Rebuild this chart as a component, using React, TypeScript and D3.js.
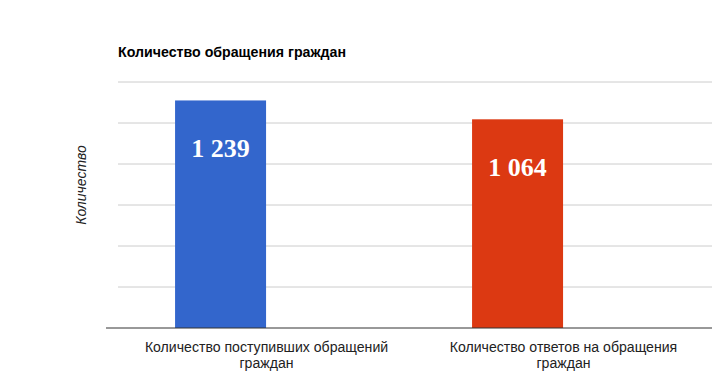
import React from 'react';
import * as d3 from 'd3';

// Chart data
const categories = ['Количество поступивших обращений граждан', 'Количество ответов на обращения граждан'];
const counts = [1239, 1064];
// bar heights as drawn in the picture, in gridline units (axis has no tick labels)
const barLevels = [5.55, 5.09];
const gridTicks = [0, 1, 2, 3, 4, 5, 6];
const colors = ['#3366cc', '#dc3912'];

const title = 'Количество обращения граждан';
const yTitle = 'Количество';

const width = 718;
const height = 386;
const margin = { top: 82, right: 6, bottom: 58, left: 118 };

const fmt = (v: number) => d3.format(',')(v).replace(/,/g, ' ');

export default function App() {
  const innerW = width - margin.left - margin.right;
  const innerH = height - margin.top - margin.bottom;

  // category slots (labels sit in the middle of each)
  const x = d3.scaleBand<string>().domain(categories).range([0, innerW]);

  // bars are narrower and sit left of the slot centre in the original
  const xBar = d3
    .scaleBand<string>()
    .domain(categories)
    .range([0, innerW])
    .paddingInner(0.6936)
    .paddingOuter(0.3468)
    .align(0.277);

  const y = d3.scaleLinear().domain([0, 6]).range([innerH, 0]);

  // split category labels on two lines like the original
  const wrap = (s: string) => {
    const words = s.split(' ');
    return [words.slice(0, -1).join(' '), words[words.length - 1]];
  };

  return (
    <svg
      width={width}
      height={height}
      style={{ position: 'absolute', left: 0, top: 0, background: '#fff' }}
    >
      <text x={118} y={57} fontFamily="Liberation Sans, Arial" fontWeight="bold" fontSize={14.2} fill="#000">
        {title}
      </text>

      <text
        transform={`translate(86,${margin.top + innerH / 2 - 20}) rotate(-90)`}
        textAnchor="middle"
        fontFamily="Liberation Sans, Arial"
        fontStyle="italic"
        fontSize={14}
        fill="#222"
      >
        {yTitle}
      </text>

      <g transform={`translate(${margin.left},${margin.top})`}>
        {gridTicks.slice(1).map(t => (
          <line key={t} x1={0} x2={innerW} y1={y(t)} y2={y(t)} stroke="#cccccc" strokeWidth={1} />
        ))}

        {categories.map((c, i) => {
          const bx = (xBar(c) ?? 0) + xBar.bandwidth() / 2;
          const lx = (x(c) ?? 0) + x.bandwidth() / 2;
          return (
            <g key={c}>
              <rect
                x={xBar(c)}
                y={y(barLevels[i])}
                width={xBar.bandwidth()}
                height={innerH - y(barLevels[i])}
                fill={colors[i]}
              />
              <text
                x={bx}
                y={y(barLevels[i]) + 57}
                textAnchor="middle"
                fontFamily="Liberation Serif, serif"
                fontWeight="bold"
                fontSize={26}
                fill="#fff"
              >
                {fmt(counts[i])}
              </text>
              <g transform={`translate(${lx},${innerH}) scale(0.94,1)`}>
                {wrap(c).map((line, j) => (
                  <text
                    key={j}
                    x={0}
                    y={24.5 + j * 15.8}
                    textAnchor="middle"
                    fontFamily="Liberation Sans, Arial"
                    fontSize={15}
                    fill="#222"
                  >
                    {line}
                  </text>
                ))}
              </g>
            </g>
          );
        })}

        <line x1={-12} x2={innerW} y1={innerH} y2={innerH} stroke="#333" strokeWidth={1} />
      </g>
    </svg>
  );
}
